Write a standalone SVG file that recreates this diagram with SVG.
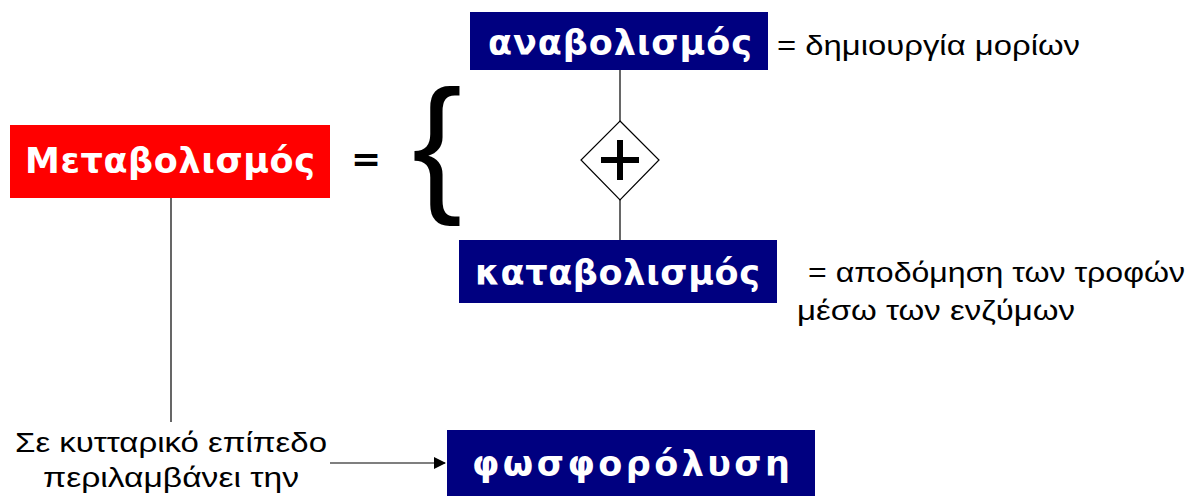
<svg xmlns="http://www.w3.org/2000/svg" width="1202" height="496" viewBox="0 0 1202 496">
<defs>
<marker id="arr" markerWidth="12" markerHeight="12" refX="11" refY="6" orient="auto" markerUnits="userSpaceOnUse"><path d="M0,0 L12,6 L0,12 Z" fill="#000"/></marker>
<style>
.box{font-family:"DejaVu Sans","Noto Sans",sans-serif;font-weight:bold;fill:#fff;}
.lbl{font-family:"Liberation Sans","Noto Sans",sans-serif;fill:#000;font-size:27px;}
.ln{stroke:#000;stroke-width:1.2;fill:none;}
</style>
</defs>
<rect width="1202" height="496" fill="#fff"/>
<g id="connectors">
<line class="ln" x1="171" y1="198" x2="171" y2="422"/>
<line class="ln" x1="620" y1="70" x2="620" y2="121"/>
<line class="ln" x1="620" y1="200" x2="620" y2="240"/>
<line class="ln" x1="330" y1="463" x2="445" y2="463" marker-end="url(#arr)"/>
</g>
<g id="metabolismos">
<rect x="10" y="125" width="320" height="73" fill="#ff0000"/>
<text class="box" x="25" y="173" font-size="35" textLength="290" lengthAdjust="spacing">Μεταβολισμός</text>
</g>
<g id="equals">
<text x="366" y="171" font-family="DejaVu Sans,sans-serif" font-weight="bold" font-size="36" text-anchor="middle">=</text>
</g>
<g id="brace">
<text x="437" y="195" font-family="Liberation Sans,sans-serif" font-size="150" text-anchor="middle">{</text>
</g>
<g id="anabolismos">
<rect x="470" y="12" width="298" height="58" fill="#000080"/>
<text class="box" x="488" y="55" font-size="35" textLength="264" lengthAdjust="spacing">αναβολισμός</text>
<text class="lbl" x="777" y="55" textLength="303" lengthAdjust="spacingAndGlyphs">= δημιουργία μορίων</text>
</g>
<g id="plus">
<polygon points="620,121 659,160 620,200 581,160" fill="#fff" stroke="#000" stroke-width="1.2"/>
<path d="M620,140 V180 M601,160 H639" stroke="#000" stroke-width="6"/>
</g>
<g id="katabolismos">
<rect x="459" y="240" width="318" height="63" fill="#000080"/>
<text class="box" x="475" y="285" font-size="35" textLength="285" lengthAdjust="spacing">καταβολισμός</text>
<text class="lbl" x="808" y="282" textLength="377" lengthAdjust="spacingAndGlyphs">= αποδόμηση των τροφών</text>
<text class="lbl" x="797" y="320" textLength="278" lengthAdjust="spacingAndGlyphs">μέσω των ενζύμων</text>
</g>
<g id="cell-text">
<text class="lbl" x="171" y="452" text-anchor="middle" textLength="312" lengthAdjust="spacingAndGlyphs">Σε κυτταρικό επίπεδο</text>
<text class="lbl" x="171" y="487" text-anchor="middle" textLength="256" lengthAdjust="spacingAndGlyphs">περιλαμβάνει την</text>
</g>
<g id="fosforolysi">
<rect x="447" y="430" width="368" height="66" fill="#000080"/>
<text class="box" x="472" y="476" font-size="35" textLength="318" lengthAdjust="spacing">φωσφορόλυση</text>
</g>
</svg>
